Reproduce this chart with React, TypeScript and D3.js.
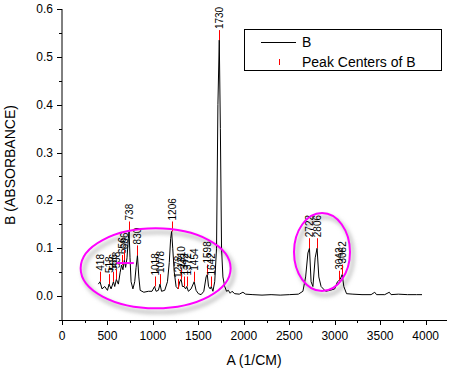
import React from 'react';
import * as d3 from 'd3';

// spectrum B: wavenumber (1/CM) and absorbance
const waveNumbers = [
  400, 418, 440, 470, 500, 518, 540, 566, 580, 598, 620, 640, 656, 670, 686, 700, 715, 730, 738, 748,
  760, 780, 800, 815, 830, 845, 860, 900, 950, 990, 1018, 1035, 1060, 1078, 1095, 1130, 1160, 1180, 1195, 1206,
  1218, 1235, 1255, 1278, 1295, 1310, 1325, 1342, 1360, 1372, 1390, 1420, 1454, 1475, 1500, 1530, 1560, 1585, 1598, 1612,
  1630, 1642, 1660, 1680, 1700, 1715, 1730, 1742, 1755, 1770, 1790, 1810, 1830, 1850, 1870, 1900, 1950, 1990, 2020, 2100,
  2200, 2300, 2400, 2500, 2600, 2650, 2680, 2705, 2722, 2740, 2760, 2785, 2806, 2825, 2850, 2900, 2950, 3000, 3030, 3042,
  3060, 3082, 3100, 3130, 3200, 3300, 3400, 3440, 3460, 3550, 3600, 3620, 3700, 3800, 3900, 3960
];
const absorbance = [
  0.025, 0.03, 0.015, 0.02, 0.012, 0.025, 0.015, 0.03, 0.02, 0.035, 0.025, 0.05, 0.065, 0.055, 0.075, 0.06, 0.08, 0.12, 0.135, 0.08,
  0.03, 0.015, 0.03, 0.06, 0.085, 0.04, 0.012, 0.008, 0.01, 0.01, 0.02, 0.01, 0.012, 0.025, 0.01, 0.012, 0.03, 0.07, 0.12, 0.135,
  0.1, 0.05, 0.02, 0.015, 0.03, 0.035, 0.02, 0.02, 0.015, 0.02, 0.01, 0.015, 0.03, 0.012, 0.005, 0.003, 0.01, 0.04, 0.045, 0.02,
  0.015, 0.02, 0.01, 0.03, 0.1, 0.4, 0.535, 0.35, 0.1, 0.04, 0.02, 0.01, 0.012, 0.006, 0.01, 0.005, 0.004, 0.008, 0.004, 0.003,
  0.002, 0.003, 0.002, 0.003, 0.004, 0.01, 0.04, 0.09, 0.1, 0.03, 0.02, 0.08, 0.1, 0.04, 0.02, 0.01, 0.012, 0.015, 0.03, 0.032,
  0.035, 0.045, 0.02, 0.005, 0.004, 0.003, 0.003, 0.008, 0.003, 0.003, 0.008, 0.003, 0.004, 0.003, 0.003, 0.003
];

// peak centers of B
const peakCenters = [418, 518, 566, 598, 656, 686, 738, 830, 1018, 1078, 1206, 1278, 1310, 1342, 1372, 1454, 1598, 1642, 1730, 2722, 2806, 3042, 3082];
const peakHeights = [0.03, 0.025, 0.03, 0.035, 0.065, 0.075, 0.135, 0.085, 0.02, 0.025, 0.135, 0.015, 0.035, 0.02, 0.02, 0.03, 0.045, 0.02, 0.535, 0.1, 0.1, 0.032, 0.045];

const xTicks = [0, 500, 1000, 1500, 2000, 2500, 3000, 3500, 4000];
const yTicks = [0.0, 0.1, 0.2, 0.3, 0.4, 0.5, 0.6];

const FONT = '"Liberation Sans", Arial, sans-serif';

export default function App() {
  const width = 450;
  const height = 370;

  const x = d3.scaleLinear().domain([0, 4235]).range([62, 447]);
  const y = d3.scaleLinear().domain([-0.05, 0.6]).range([320, 9]);

  const points = waveNumbers.map((w, i) => [w, absorbance[i]] as [number, number]);
  const line = d3.line<[number, number]>()
    .x(d => x(d[0]))
    .y(d => y(d[1]));

  const xMinor = d3.range(0, 4250, 250);
  const yMinor = d3.range(-0.05, 0.6001, 0.05);

  // annotation ellipses (pixel radii)
  const ellipses = [
    { cx: x(1030), cy: y(0.058), rx: 75, ry: 40 },
    { cx: x(2860), cy: y(0.092), rx: 28, ry: 39 },
  ];

  return (
    <svg width={width} height={height} style={{ position: 'absolute', left: 0, top: 0, background: '#fff' }}>
      <defs>
        <filter id="blur" x="-20%" y="-20%" width="140%" height="140%">
          <feGaussianBlur stdDeviation="2" />
        </filter>
      </defs>

      {/* ellipse shadows */}
      {ellipses.map((e, i) => (
        <ellipse key={'s' + i} cx={e.cx + 3} cy={e.cy + 4} rx={e.rx} ry={e.ry}
          fill="none" stroke="#b8b8b8" strokeWidth={3} filter="url(#blur)" />
      ))}

      {/* spectrum */}
      <path d={line(points) || ''} fill="none" stroke="#000" strokeWidth={1} />

      {/* peak centers */}
      {peakCenters.map((p, i) => {
        const px = Math.round(x(p)) + 0.5;
        const py = y(peakHeights[i]);
        return (
          <g key={p}>
            <line x1={px} x2={px} y1={py} y2={py - 10} stroke="#ff0000" strokeWidth={1} />
            <text transform={`translate(${px + 3.5},${py - 11}) rotate(-90)`}
              fontFamily={FONT} fontSize={10} fill="#000">{p}</text>
          </g>
        );
      })}

      {/* ellipses */}
      {ellipses.map((e, i) => (
        <ellipse key={'e' + i} cx={e.cx} cy={e.cy} rx={e.rx} ry={e.ry}
          fill="none" stroke="#ff00ff" strokeWidth={2} />
      ))}
      <line x1={x(600)} x2={x(790)} y1={y(0.069)} y2={y(0.069)} stroke="#ff00ff" strokeWidth={2} />

      {/* axes */}
      <line x1={62} x2={62} y1={9} y2={320} stroke="#000" />
      <line x1={62} x2={447} y1={320.5} y2={320.5} stroke="#000" />
      {yMinor.map((t, i) => (
        <line key={'ym' + i} x1={62} x2={i % 2 === 1 ? 57 : 59} y1={Math.round(y(t)) + 0.5} y2={Math.round(y(t)) + 0.5} stroke="#000" />
      ))}
      {yTicks.map(t => (
        <text key={'yt' + t} x={53} y={y(t) + 4} textAnchor="end" fontFamily={FONT} fontSize={12} fill="#000">
          {t.toFixed(1)}
        </text>
      ))}
      {xMinor.map(t => (
        <line key={'xm' + t} x1={Math.round(x(t)) + 0.5} x2={Math.round(x(t)) + 0.5} y1={320} y2={t % 500 === 0 ? 325 : 323} stroke="#000" />
      ))}
      {xTicks.map(t => (
        <text key={'xt' + t} x={x(t)} y={340} textAnchor="middle" fontFamily={FONT} fontSize={12} fill="#000">
          {t}
        </text>
      ))}

      <text x={254} y={365} textAnchor="middle" fontFamily={FONT} fontSize={14} fill="#000">A (1/CM)</text>
      <text transform="translate(15,165) rotate(-90)" textAnchor="middle" fontFamily={FONT} fontSize={14} fill="#000">
        B (ABSORBANCE)
      </text>

      {/* legend */}
      <rect x={244.5} y={29.5} width={197} height={41} fill="#fff" stroke="#000" />
      <line x1={261} x2={296} y1={42.5} y2={42.5} stroke="#000" />
      <text x={302} y={47} fontFamily={FONT} fontSize={14} fill="#000">B</text>
      <line x1={279.5} x2={279.5} y1={59} y2={65} stroke="#ff0000" />
      <text x={302} y={67} fontFamily={FONT} fontSize={14} fill="#000">Peak Centers of B</text>
    </svg>
  );
}
